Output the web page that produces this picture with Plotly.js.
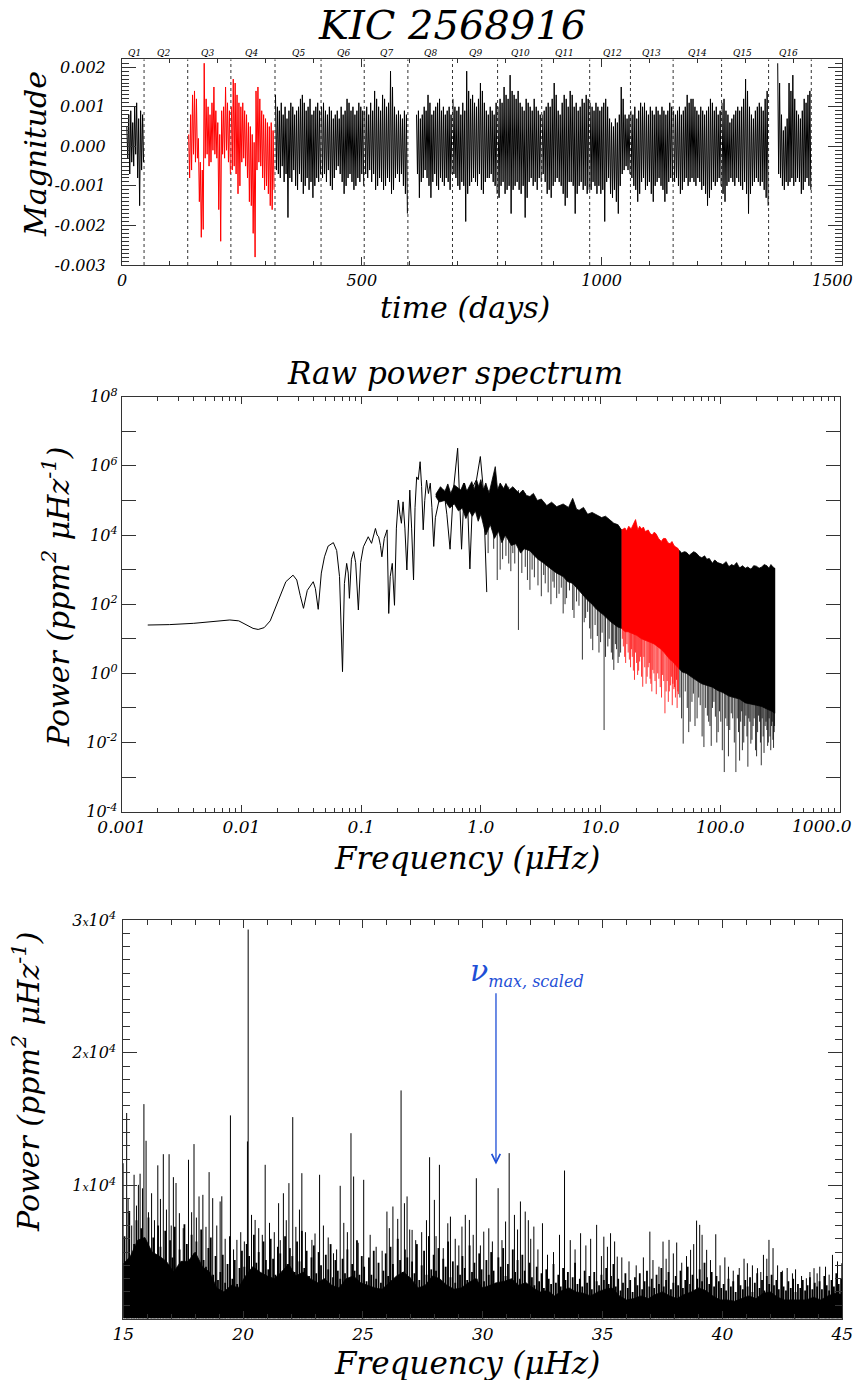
<!DOCTYPE html>
<html><head><meta charset="utf-8">
<script src="https://cdn.plot.ly/plotly-3.0.1.min.js"></script>
<style>html,body{margin:0;padding:0;background:#fff}</style>
</head><body><div id="chart" style="width:858px;height:1380px"></div>
<script>
// ================= PANEL 1 : light curve (values in units of 1e-4 mag, alternating local max / min) =================
const MAG_UNIT = 1e-4;
const quarterNames = ['Q1','Q2','Q3','Q4','Q5','Q6','Q7','Q8','Q9','Q10','Q11','Q12','Q13','Q14','Q15','Q16'];
const quarterLabelT = [27,87.5,178,271,367,461,551,643,737,830,923,1022,1104,1199,1294,1389];
const quarterEdges = [46,137,227,319,415,505,596,689,783,875,975,1060,1149,1250,1348,1437];

const q1 = [5,-3,8,-7,9,-4,6,-5,10,-2,11,-8,7,-15,9,-6,8,-4];
const q3 = [3,-8,8,-6,13,-2,14,-4,12,-3,2,-14,-4,-23,-6,-21,21,-3,12,-2,10,-5,8,-4,11,-1,15,-2,9,-3,6,-16,3,-24,9,-2,10,-3,15,-1,11,-4,9,-7];
const q4 = [10,-6,17,-5,16,-7,13,-12,11,-10,10,-4,11,-3,9,-5,8,-8,6,-14,5,-15,3,-22,1,-28,14,-6,15,-4,12,-5,9,-8,8,-11,7,-10,6,-12,5,-15,6,-16,4,-11];
const q5 = [13,-6,10,-7,9,-8,11,-5,8,-9,10,-7,7,-18,9,-8,11,-9,10,-6,8,-10,9,-11,10,-7,12,-9,13,-12,11,-10,9,-8,10,-11,12,-9,8,-13,9,-10,10,-8,11,-9,9,-7];
const q6 = [10,-8,11,-7,9,-9,8,-6,10,-10,9,-11,7,-8,8,-6,9,-5,7,-7,10,-9,8,-12,9,-10,12,-8,11,-7,9,-9,10,-11,8,-10,9,-8,11,-9,10,-7,9,-10];
const q7 = [9,-7,10,-8,8,-6,11,-9,9,-7,14,-11,12,-10,10,-8,9,-9,13,-11,12,-10,10,-8,11,-9,19,-12,15,-11,10,-8,8,-7,9,-9,8,-7,7,-10,9,-12,8,-17];
const q8 = [8,-7,9,-13,7,-9,8,-8,10,-6,9,-8,13,-10,11,-13,8,-9,9,-7,10,-10,11,-11,12,-8,9,-9,10,-10,8,-8,9,-9,10,-11,8,-7];
const q9 = [12,-7,10,-8,9,-10,10,-11,8,-9,11,-10,9,-19,19,-12,14,-10,12,-9,13,-8,11,-9,10,-10,12,-7,16,-11,14,-12,11,-9,9,-8,8,-8,10,-7,9,-9,8,-10,11,-12];
const q10 = [10,-13,12,-10,11,-9,15,-12,13,-11,12,-10,18,-17,14,-11,13,-10,12,-9,14,-11,11,-12,10,-10,9,-18,12,-13,11,-9,10,-8,9,-10,12,-9,10,-11,9,-8,8,-9];
const q11 = [8,-7,9,-9,10,-12,11,-11,10,-13,12,-10,16,-9,13,-8,9,-9,8,-10,11,-12,13,-15,12,-13,10,-9,14,-9,13,-10,10,-17,11,-12,9,-10,10,-9,12,-11,11,-10,13,-12,12,-11];
const q12 = [11,-11,10,-9,9,-10,11,-12,10,-10,9,-12,10,-11,11,-19,12,-9,10,-8,7,-12,6,-13,5,-11,7,-14,6,-17,8,-10,15,-7,12,-6,8,-5,7,-6,8,-7];
const q13 = [9,-8,8,-10,10,-11,7,-14,9,-12,11,-9,10,-8,11,-11,9,-10,8,-9,10,-12,9,-14,8,-10,10,-9,9,-8,8,-10,10,-11,9,-14,8,-12,9,-9,11,-8,10,-9];
const q14 = [9,-9,8,-8,9,-10,10,-12,8,-11,9,-9,10,-8,13,-10,11,-9,12,-8,12,-9,10,-10,9,-8,8,-9,10,-11,9,-10,8,-12,9,-15,10,-13,12,-11,11,-9,9,-10,10,-9,8,-8,9,-10];
const q15 = [11,-12,12,-14,9,-10,8,-9,6,-8,7,-9,8,-10,9,-8,10,-9,9,-10,10,-11,12,-9,17,-12,14,-17,10,-12,8,-10,7,-9,9,-8,10,-9,11,-10,10,-9,9,-11,12,-13,14,-15];
const q16 = [21,-7,16,-8,8,-10,4,-11,5,-9,7,-10,16,-9,14,-8,18,-10,12,-9,9,-8,8,-9,7,-12,9,-11,12,-9,11,-8,13,-10,14,-11];

const lcSegments = ['Q1','Q3','Q4','Q5','Q6','Q7','Q8','Q9','Q10','Q11','Q12','Q13','Q14','Q15','Q16'];
const lcStart = [10,139,228,320,416,506,614,690,784,876,976,1061,1150,1251,1367];
const lcEnd   = [45,226,317,414,504,595,688,782,874,974,1059,1148,1249,1347,1436];
const lcValues = [q1,q3,q4,q5,q6,q7,q8,q9,q10,q11,q12,q13,q14,q15,q16];
const redSegments = ['Q3','Q4'];

// ================= PANEL 2 : raw power spectrum (ppm^2/µHz) =================
const lowFreq = [0.00165,0.0025,0.004,0.006,0.008,0.0095,0.011,0.0125,0.0138,0.0155,0.0174,0.019,0.021,0.0235,0.027,0.029,0.031,0.033,0.0355,0.0398,0.0415,0.0438,0.0465,0.0494,0.053,0.0586,0.0625,0.066,0.0699,0.0725,0.0757,0.078,0.0798,0.083,0.0866,0.09,0.0948,0.099,0.1045,0.11,0.1146,0.1222,0.1317,0.136,0.14,0.145,0.149,0.156,0.1647,0.17,0.175,0.182,0.19,0.197,0.2045,0.211,0.217,0.224,0.232,0.241,0.248,0.255,0.264,0.274,0.282,0.291,0.3,0.311,0.32,0.33,0.34,0.352,0.365,0.378,0.39,0.404,0.417,0.43,0.46,0.49,0.52,0.553,0.59,0.64,0.66,0.69,0.73,0.77,0.81,0.86,0.92,0.99,1.05,1.12];
const lowPow = [25,25.7,28,32,35,33,26,20,18.6,21,33,71,178,447,692,501,178,76,251,447,282,71,794,2344,4786,6026,3548,631,1.12,398,1514,794,148,1995,3311,1585,68,1585,4571,6310,8913,5754,15490,10000,8913,5012,2344,7943,14125,54,631,1514,93,15850,102300,39810,21880,91200,15850,977,25120,199500,15850,501,63100,478600,398100,1318000,251200,14130,100000,389000,158500,316200,63100,4677,31620,53700,158500,204200,39810,3890,199500,3236000,251200,3890,316200,158500,1047,251200,398100,1862000,199500,224];

// dense band, black (0.42-15 µHz): upper and lower edges
const upA_f = [0.42,0.46,0.5,0.53,0.56,0.6,0.68,0.72,0.76,0.8,0.84,0.88,0.92,0.96,1.0,1.05,1.1,1.17,1.25,1.32,1.38,1.45,1.55,1.62,1.72,1.85,1.96,2.1,2.25,2.4,2.57,2.75,2.96,3.2,3.55,3.9,4.3,4.87,5.4,5.85,6.3,6.62,7.2,7.8,8.5,9.25,10.2,11.0,11.95,12.9,13.9,15.0];
const upA_p = [1.5e5,2.5e5,1.8e5,3.0e5,1.6e5,2.8e5,2.0e5,3.2e5,1.8e5,2.5e5,3.5e5,2.0e5,4.0e5,2.5e5,4.0e5,2.0e5,3.2e5,1.6e5,4.0e5,9.5e5,2.0e5,3.2e5,2.2e5,3.1e5,2.0e5,2.5e5,2.0e5,1.6e5,2.0e5,1.4e5,1.3e5,1.6e5,1.0e5,1.1e5,7.1e4,8.9e4,6.6e4,7.9e4,6.3e4,1.15e5,5.6e4,5.2e4,6.3e4,4.0e4,4.5e4,3.8e4,3.2e4,3.5e4,2.7e4,2.2e4,2.0e4,1.4e4];
const loA_f = [0.42,0.45,0.5,0.55,0.6,0.65,0.7,0.75,0.8,0.85,0.9,0.95,1.0,1.1,1.2,1.3,1.4,1.5,1.6,1.8,1.96,2.15,2.3,2.57,2.8,3.0,3.3,3.55,3.9,4.3,4.87,5.3,5.85,6.62,7.2,7.8,8.5,9.25,10.5,12,13.9,15.0];
const loA_p = [1.3e5,9e4,1.0e5,6e4,8e4,5e4,6e4,3e4,5e4,3.5e4,5e4,2.5e4,4.0e4,1.0e4,2.0e4,8e3,1.3e4,6e3,1.0e4,5.0e3,5.6e3,3e3,4.0e3,3.5e3,2.5e3,2.0e3,1.6e3,1.3e3,1.0e3,790,630,450,400,250,180,130,100,71,50,32,22,20];
// dense band, red (15-45 µHz)
const upR_f = [15.0,16.0,16.5,17.2,18.0,18.8,19.6,20.5,21.2,22.0,22.8,23.6,25.0,26.0,27.0,28.0,29.0,30.5,32.1,33.5,35.0,36.5,38.0,39.5,41.0,42.5,44.0,45.0];
const upR_p = [1.4e4,1.6e4,1.3e4,1.8e4,1.5e4,2.0e4,2.8e4,1.4e4,1.8e4,1.5e4,1.7e4,1.26e4,1.4e4,1.1e4,1.0e4,1.2e4,1.1e4,8.0e3,6.5e3,8.0e3,7.9e3,6.0e3,5.6e3,6.5e3,5.0e3,4.5e3,4.2e3,3.7e3];
const loR_f = [15.0,16,17,18.5,20,22,24,26,28,30,32,34,36,38,40,42,45];
const loR_p = [20,16,16,14,12.6,10,8.9,7.9,7.1,6.0,5.0,4.0,3.2,2.5,2.2,1.8,1.4];
// dense band, black (45-285 µHz)
const upB_f = [45,47.5,50,52,55,57,60,63,67,70,74,77,81,86,90,95,100,105,112,118,124,130,137,145,153,162,170,180,190,200,211,222,233,245,255,265,275,285];
const upB_p = [3.7e3,3.0e3,3.3e3,3.2e3,2.6e3,2.8e3,3.3e3,3.0e3,2.4e3,2.2e3,2.5e3,2.0e3,2.1e3,1.5e3,1.9e3,1.6e3,1.5e3,1.4e3,1.7e3,1.2e3,1.4e3,1.3e3,1.6e3,1.1e3,1.3e3,1.1e3,1.2e3,1.0e3,1.3e3,1.26e3,1.1e3,1.2e3,1.4e3,1.3e3,1.1e3,1.4e3,1.2e3,1.1e3];
const loB_f = [45,48,52,57,63,70,77,86,95,105,118,130,145,162,180,200,222,250,270,285];
const loB_p = [1.4,1.1,1.0,0.8,0.63,0.5,0.45,0.4,0.32,0.28,0.22,0.2,0.18,0.14,0.13,0.12,0.11,0.09,0.08,0.07];
// individual deep spikes (black): frequency, top, bottom
const spkF  = [1.37,1.52,1.71,1.85,2.06,2.2,2.35,2.57,2.8,3.2,3.45,3.85,4.1,4.5,4.87,5.2,5.85,6.3,7.05,7.5,8.1,8.6,9.4,10.0,10.7,11.5,12.3,12.9,13.6,14.3,
               1.15,1.28,1.45,1.62,1.78,1.92,2.45,2.68,3.0,3.35,3.65,4.0,4.3,4.7,5.05,5.5,6.0,6.6,7.3,7.8,8.3,9.0,9.7,10.3,11.0,11.8,12.6,13.3,14.0,14.7,
               46,49,53,56,59.6,64,68,73,78,82,86,91,96,101,108,114,120,127,135,142,148,153,160,167,173,180,188,197,205,213,220,228,237,245,252,260,268,275,282,
               47.5,51,54.5,58,61.5,66,70.5,75.5,80,84,88.5,93.5,98.5,104,111,117,123.5,131,138.5,145,151,157,163.5,170,176.5,184,192,201,209,216.5,224,232,241,248.5,256,264,271.5,278.5,284];
const spkHi = [2e5,2e5,2.5e5,2e5,2e5,1.5e5,1.6e5,1.3e5,1.3e5,1e5,8e4,8e4,7e4,7e4,7e4,6e4,6e4,5e4,5e4,4e4,4e4,4e4,3.5e4,3e4,3e4,3e4,2.5e4,2e4,2e4,1.8e4,
               2e5,3e5,2.5e5,2.5e5,2e5,2e5,1.3e5,1.5e5,1e5,9e4,7e4,8e4,6e4,7e4,6e4,6e4,5e4,5e4,5e4,4e4,4e4,3.5e4,3.5e4,3e4,3e4,2.5e4,2.2e4,2e4,2e4,1.5e4,
               3.5e3,3.0e3,3.0e3,2.5e3,2.5e3,2.5e3,2.2e3,2.0e3,2.0e3,1.8e3,1.6e3,1.6e3,1.5e3,1.5e3,1.4e3,1.3e3,1.3e3,1.3e3,1.2e3,1.2e3,1.2e3,1.2e3,1.1e3,1.1e3,1.1e3,1.1e3,1.1e3,1.1e3,1.1e3,1.1e3,1.1e3,1.1e3,1.1e3,1.1e3,1.1e3,1.1e3,1.1e3,1.1e3,1.1e3,
               3e3,3e3,2.6e3,2.6e3,3e3,2.4e3,2.2e3,2.2e3,2e3,1.7e3,1.8e3,1.6e3,1.5e3,1.4e3,1.5e3,1.3e3,1.3e3,1.3e3,1.3e3,1.2e3,1.2e3,1.1e3,1.1e3,1.1e3,1.1e3,1.1e3,1.1e3,1.1e3,1.1e3,1.1e3,1.1e3,1.1e3,1.1e3,1.1e3,1.1e3,1.1e3,1.1e3,1.1e3,1.1e3];
const spkLo = [500,2000,1500,3000,18,800,1200,260,600,170,400,100,300,200,54,150,68,120,2.5,40,20,4.7,12,8,0.023,6,4,1.26,5,3,
               3000,4000,1000,2500,900,1500,500,1000,350,700,220,450,150,300,100,250,40,90,30,60,10,25,4,15,3,10,2.5,7,2,4,
               0.2,0.0093,0.1,0.04,0.26,0.05,0.12,0.0074,0.06,0.03,0.1,0.056,0.02,0.04,0.0014,0.03,0.023,0.05,0.0014,0.02,0.04,0.006,0.03,0.015,0.05,0.0093,0.03,0.006,0.02,0.04,0.0022,0.015,0.03,0.023,0.01,0.015,0.03,0.012,0.02,
               0.05,0.3,0.02,0.15,0.03,0.2,0.015,0.1,0.04,0.008,0.15,0.01,0.08,0.006,0.05,0.004,0.07,0.01,0.05,0.003,0.08,0.01,0.06,0.002,0.04,0.012,0.05,0.004,0.06,0.01,0.05,0.005,0.04,0.008,0.05,0.006,0.04,0.007,0.03];
// individual deep spikes (red)
const rspkF  = [15.5,16.2,17.0,17.8,18.4,19.2,20.0,20.8,21.6,22.5,23.4,24.5,25.5,26.3,27.3,28.5,30,31.5,33,34.5,36,37.5,39,40.2,41.5,43.1,44.2,
                15.2,15.9,16.6,17.4,18.1,18.8,19.6,20.4,21.2,22.0,23.0,24.0,25.0,25.9,26.8,27.9,29.2,30.7,32.3,33.7,35.3,36.8,38.3,39.7,41.0,42.2,43.6,44.7];
const rspkHi = [1.4e4,1.4e4,1.5e4,1.4e4,1.4e4,1.5e4,1.4e4,1.3e4,1.3e4,1.3e4,1.2e4,1.1e4,1.0e4,1.0e4,9e3,9e3,8e3,7e3,7e3,7e3,6e3,5e3,5e3,5e3,4.5e3,4e3,4e3,
                1.4e4,1.5e4,1.3e4,1.6e4,1.4e4,1.5e4,2e4,1.4e4,1.4e4,1.3e4,1.3e4,1.2e4,1.1e4,1.0e4,9e3,9e3,8e3,7e3,6e3,7e3,6e3,5e3,5e3,5e3,4.5e3,4e3,4e3,3.8e3];
const rspkLo = [6,2,4,1.5,3,0.65,2,1.2,3,0.41,1.5,0.8,2,0.5,1.26,0.6,1,0.4,0.9,0.07,0.6,0.3,0.8,0.5,0.4,0.65,0.3,
                10,3,7,2.5,5,1.2,4,0.9,2.2,0.8,3,0.5,1.5,0.7,0.3,1,0.25,0.7,0.2,0.6,0.3,0.15,0.45,0.12,0.35,0.2,0.1,0.25];

// ================= PANEL 3 : zoom 15-45 µHz (linear) =================
// prominent peaks
const peakF = [15.0,15.14,15.45,15.63,15.70,15.86,15.95,16.18,16.44,16.67,16.91,17.09,17.34,17.72,17.95,18.16,18.32,18.58,18.73,19.04,19.11,19.47,19.74,20.18,20.21,20.50,20.92,21.48,21.68,21.91,22.07,22.45,22.87,23.19,23.77,24.05,24.50,24.61,25.03,
  26.00,26.25,26.59,26.73,26.84,27.05,27.78,27.98,28.19,28.54,28.65,29.13,29.27,29.44,29.73,30.04,30.25,30.64,31.10,31.32,31.57,31.77,32.13,32.49,33.41,34.08,34.75,35.05,
  35.33,35.61,36.97,37.35,37.52,37.77,38.09,38.67,38.92,39.05,39.34,39.72,40.25,41.04,41.46,41.71,41.94,42.11,42.92,43.50,43.82,44.06,44.59,44.98,
  15.2,15.35,15.55,15.8,16.05,16.3,16.55,16.8,17.0,17.2,17.5,17.85,18.05,18.45,18.9,19.25,19.6,19.9,20.05,20.35,20.65,20.8,21.1,21.3,21.55,21.8,22.2,22.35,22.6,23.0,23.35,23.55,23.9,24.2,24.35,24.8,
  25.3,25.55,25.8,26.1,26.45,26.95,27.2,27.45,27.65,28.05,28.35,28.85,29.0,29.6,29.9,30.4,30.8,30.95,31.45,31.9,32.0,32.3,32.7,32.95,33.2,33.65,33.85,34.3,34.5,34.95,
  35.2,35.5,35.8,36.1,36.4,36.7,37.1,37.65,37.95,38.3,38.5,38.8,39.15,39.5,39.9,40.1,40.45,40.7,40.9,41.25,41.6,41.85,42.3,42.5,42.7,43.05,43.3,43.65,43.95,44.3,44.45,44.8];
const peakP = [11690,15470,10820,10060,10900,16140,13380,9430,11530,12370,12370,10640,7930,11950,13130,9190,9310,11020,9060,8810,9200,15290,5920,13330,29280,7420,11570,8680,9430,10190,15160,10940,5920,10820,4910,9990,13950,10690,10440,
  8050,8430,17170,8680,9190,6670,12140,8930,11570,7170,7670,6920,7800,7420,10560,6540,6790,9810,12450,7800,8810,8050,6920,7170,11140,6420,7050,6160,
  6420,4660,6540,3900,5790,5920,5720,5170,7370,7050,5170,6340,3900,4160,3790,4790,5920,5300,3400,3030,3790,3900,4790,4160,
  9000,7000,8500,9800,8000,7400,9000,8200,7000,10200,6800,8000,7600,6900,7000,6000,5200,6500,5800,7800,6800,6300,7200,6500,5900,7400,6900,8200,6500,6400,7000,6100,5200,7200,6500,5700,
  6300,5400,5100,6800,7500,6700,5900,6500,7400,6200,5300,6000,5500,6300,5500,5800,5900,7300,6700,7400,6000,5200,4800,5000,6300,5900,5200,5500,6000,4700,
  5400,5800,4600,4300,4000,4600,4400,4500,4900,4200,4700,5600,6300,4400,4000,4600,3600,3800,4500,4000,3500,4500,4000,3600,3800,3700,3200,3500,3400,3900,3300,4300];
// local maxima of the dense background, one per 0.1 µHz bin starting at 15.05 µHz
const denseF0 = 15.05, denseStep = 0.1;
const denseP = [
  6200,3400,8100,4500,5600,7400,3900,6800,5200,4100,
  7600,4800,6100,3600,7000,5400,4200,6600,3800,5900,
  4600,6900,3500,5200,4300,7100,5600,3800,6300,4900,
  5800,3600,6700,4400,3900,5300,6100,3300,4700,2900,
  3500,4800,2700,4100,6200,3000,4400,2600,3800,5100,
  3900,5600,4700,3600,6300,4200,5000,3400,5800,4400,
  3700,6000,4500,3300,5400,4900,3600,6200,4100,5300,
  4700,3500,5800,4300,6600,3800,5100,3200,4600,5500,
  3400,5000,4000,2900,4800,3700,5600,3100,4400,3600,
  3000,4500,3400,5200,2800,4100,3600,5900,3300,4700,
  3900,2800,4600,3300,5100,3000,4200,2700,3600,4900,
  3200,5400,4100,3000,6000,4400,3500,5200,4600,3100,
  4300,3400,5600,2900,4000,5100,3300,6200,3700,4800,
  3600,5300,2800,4500,3900,5800,3100,4300,2700,4000,
  3300,4700,3800,2900,5500,3500,4200,3000,4900,3700,
  2800,4400,3300,5000,3600,2700,4600,3900,5300,3200,
  4100,2900,5200,3500,4400,3000,4800,3600,2600,4200,
  3100,2500,3900,2800,3400,2300,3700,3000,2600,4100,
  2700,3300,2400,3800,2900,3500,2200,3100,4200,2600,
  3000,2400,3600,2700,3200,2200,3500,2800,2500,3300,
  2900,3800,2600,3200,4100,2400,3000,2100,2700,3400,
  2300,2900,2000,3100,2500,3400,2200,2800,3600,2400,
  3000,2300,3300,2600,3800,2400,2900,3500,2200,2700,
  3200,2500,3600,2300,2900,3900,2600,3300,2100,3000,
  3700,2800,4200,3100,2600,3500,2400,3200,2800,2300,
  2600,2100,3000,2400,2800,2000,3300,2500,2200,2900,
  2400,3100,2000,2700,3400,2300,2900,2100,3200,2600,
  3300,2500,2900,2200,3500,2400,2100,2800,2300,3000,
  2000,2600,2300,2900,2100,2500,3100,2200,2700,2400,
  2800,2200,3200,2500,2100,2900,2400,3400,2600,3000];
// solid core of the spectrum
const coreF = [15.0,15.3,15.6,15.9,16.2,16.5,16.8,17.1,17.4,17.7,18.0,18.3,18.6,18.9,19.2,19.5,19.8,20.1,20.4,20.7,21.0,21.3,21.6,21.9,22.2,22.5,22.8,23.1,23.4,23.7,24.0,24.3,24.6,24.9,25.2,25.5,25.8,26.1,26.4,26.7,27.0,27.3,27.6,27.9,28.2,28.5,28.8,29.1,29.4,29.7,30.0,30.3,30.6,30.9,31.2,31.5,31.8,32.1,32.4,32.7,33.0,33.3,33.6,33.9,34.2,34.5,34.8,35.1,35.4,35.7,36.0,36.3,36.6,36.9,37.2,37.5,37.8,38.1,38.4,38.7,39.0,39.3,39.6,39.9,40.2,40.5,40.8,41.1,41.4,41.7,42.0,42.3,42.6,42.9,43.2,43.5,43.8,44.1,44.4,44.7,45.0];
const coreP = [4100,4700,5900,6100,5000,4700,4300,3500,4300,4300,5000,3900,3500,2300,2000,2500,2300,3200,3900,3500,3200,3000,3500,4100,3200,3500,3000,2700,3000,2500,2300,3000,3200,2700,2500,2300,2200,2700,3200,3500,3000,2300,2500,3200,3000,2500,2200,2300,2700,3000,2300,2500,2700,2800,3000,2500,2700,2300,2000,2100,1700,2100,2300,2000,1900,1700,2000,2200,2300,1700,1400,1500,1700,1500,1800,2000,1700,1500,1800,2000,2300,2100,1700,1400,1400,1300,1500,1700,1500,1900,2000,1600,1400,1400,1400,1400,1600,1400,1700,1900,1800];
const nuMaxScaled = 30.55;

// ================= build traces =================
const FONT = 'DejaVu Serif';
const AX = '#333';
const BLUE = '#1f4fd6';
const P1Y = [-0.003, 0.0022];

function lcTrace(wantRed){
  const x=[], y=[];
  lcSegments.forEach((name,i)=>{
    if (redSegments.includes(name) !== wantRed) return;
    const v = lcValues[i], n = v.length;
    for (let k=0;k<n;k++){ x.push(lcStart[i] + k*(lcEnd[i]-lcStart[i])/(n-1)); y.push(v[k]*MAG_UNIT); }
    x.push(null); y.push(null);
  });
  return {x, y, type:'scatter', mode:'lines', xaxis:'x', yaxis:'y',
          line:{color: wantRed ? '#ff0000' : '#000', width:1.0}, hoverinfo:'skip'};
}
const qx=[], qy=[];
quarterEdges.forEach(e=>{ qx.push(e,e,null); qy.push(P1Y[0],P1Y[1],null); });

function band(uf,up,lf,lp,color){
  return {x: uf.concat(lf.slice().reverse()), y: up.concat(lp.slice().reverse()),
          type:'scatter', mode:'lines', fill:'toself', fillcolor:color,
          line:{color:color, width:0.8}, xaxis:'x2', yaxis:'y2', hoverinfo:'skip'};
}
function spikes(f,hi,lo,color,xa,ya,w){
  const x=[],y=[];
  f.forEach((v,i)=>{ x.push(v,v,null); y.push(hi[i],lo[i],null); });
  return {x,y,type:'scatter',mode:'lines',line:{color:color,width:w},xaxis:xa,yaxis:ya,hoverinfo:'skip'};
}
const denseF = denseP.map((_,i)=>denseF0 + i*denseStep);

const traces = [
  {x:qx, y:qy, type:'scatter', mode:'lines', line:{color:AX, width:1, dash:'dot'}, xaxis:'x', yaxis:'y', hoverinfo:'skip'},
  lcTrace(false), lcTrace(true),
  {x:lowFreq, y:lowPow, type:'scatter', mode:'lines', line:{color:'#000', width:1}, xaxis:'x2', yaxis:'y2', hoverinfo:'skip'},
  band(upA_f,upA_p,loA_f,loA_p,'#000'),
  band(upB_f,upB_p,loB_f,loB_p,'#000'),
  spikes(spkF,spkHi,spkLo,'#000','x2','y2',0.8),
  band(upR_f,upR_p,loR_f,loR_p,'#ff0000'),
  spikes(rspkF,rspkHi,rspkLo,'#ff0000','x2','y2',0.8),
  {x:coreF, y:coreP, type:'scatter', mode:'lines', fill:'tozeroy', fillcolor:'#000', line:{color:'#000', width:0.8}, xaxis:'x3', yaxis:'y3', hoverinfo:'skip'},
  spikes(denseF, denseP.map(()=>0), denseP, '#000', 'x3','y3', 1.8),
  spikes(peakF, peakF.map(()=>0), peakP, '#000', 'x3','y3', 1)
];

// ================= layout =================
const tickFont = {family:FONT, style:'italic', size:16, color:'#000'};
function ax(extra){
  return Object.assign({showline:true, linecolor:AX, linewidth:1, mirror:'ticks', ticks:'inside', tickcolor:AX, tickwidth:1,
    showgrid:false, zeroline:false, automargin:false, fixedrange:true, tickfont:tickFont}, extra);
}
const W=858, H=1380;
const px = v=>v/W, py = v=>1-v/H;

const logMinor=[]; for (let e=-3;e<3;e++) for (let d=2;d<=9;d++) logMinor.push(d*Math.pow(10,e));
const evenDec=[], evenText=[], oddDec=[];
for (let e=-4;e<=8;e++){ if (e%2===0){ evenDec.push(Math.pow(10,e)); evenText.push('10<sup>'+e+'</sup>'); } else oddDec.push(Math.pow(10,e)); }

function txt(text,x,y,size,extra){
  return Object.assign({text, x, y, xref:'paper', yref:'paper', showarrow:false, xanchor:'center', yanchor:'middle',
    font:{family:FONT, style:'italic', size, color:'#000'}}, extra||{});
}
const annotations = [
  txt('KIC 2568916', px(452), py(25), 40),
  txt('Magnitude', px(36), py(154), 30, {textangle:-90}),
  txt('time (days)', px(465), py(308), 30),
  txt('1500', px(832), py(281), 16),
  txt('Raw power spectrum', px(455), py(373), 31),
  txt('Power (ppm<sup>2</sup> μHz<sup>-1</sup>)', px(56), py(597), 30, {textangle:-90}),
  txt('1000.0', px(822), py(826), 17),
  txt('Frequency (μHz)', px(467), py(858), 31),
  txt('Power (ppm<sup>2</sup> μHz<sup>-1</sup>)', px(26), py(1082), 30, {textangle:-90}),
  txt('Frequency (μHz)', px(467), py(1363), 31),
  {text:'ν<sub><span style="font-size:16px">max, scaled</span></sub>', x:31.85, y:26100, xref:'x3', yref:'y3', showarrow:false,
    xanchor:'center', yanchor:'middle', font:{family:FONT, style:'italic', size:30, color:BLUE}},
  {text:'', x:nuMaxScaled, y:11600, ax:nuMaxScaled, ay:24600, xref:'x3', yref:'y3', axref:'x3', ayref:'y3',
    showarrow:true, arrowhead:5, arrowsize:1.3, arrowwidth:1.3, arrowcolor:BLUE}
];
quarterNames.forEach((q,i)=>annotations.push({text:q, x:quarterLabelT[i], y:py(52.7), xref:'x', yref:'paper', showarrow:false,
  xanchor:'center', yanchor:'middle', font:{family:FONT, style:'italic', size:9, color:'#000'}}));

const layout = {
  width:W, height:H, margin:{l:0,r:0,t:0,b:0}, paper_bgcolor:'#fff', plot_bgcolor:'#fff', showlegend:false,
  font:{family:FONT, style:'italic', color:'#000'},
  xaxis: ax({domain:[px(122),px(841.5)], anchor:'y', range:[0,1500], tickmode:'array', tickvals:[0,500,1000],
    ticktext:['0','500','1000'], ticklen:8, ticklabelstandoff:1,
    minor:{dtick:100, tick0:0, ticks:'inside', ticklen:4, tickcolor:AX}}),
  yaxis: ax({domain:[py(265),py(59.3)], anchor:'x', range:P1Y, tickmode:'array',
    tickvals:[-0.003,-0.002,-0.001,0,0.001,0.002], ticktext:['-0.003','-0.002','-0.001','0.000','0.001','0.002'],
    ticklen:14, ticklabelstandoff:12, minor:{dtick:0.0001, tick0:0, ticks:'inside', ticklen:7, tickcolor:AX}}),
  xaxis2: ax({domain:[px(121.7),px(840)], anchor:'y2', type:'log', range:[-3,3], tickmode:'array',
    tickvals:[0.001,0.01,0.1,1,10,100], ticktext:['0.001','0.01','0.1','1.0','10.0','100.0'],
    ticklen:7, ticklabelstandoff:0, tickfont:Object.assign({},tickFont,{size:17}),
    minor:{tickmode:'array', tickvals:logMinor.concat([1000]), ticks:'inside', ticklen:4, tickcolor:AX}}),
  yaxis2: ax({domain:[py(811.7),py(396.7)], anchor:'x2', type:'log', range:[-4,8], tickmode:'array',
    tickvals:evenDec, ticktext:evenText, ticklen:14, ticklabelstandoff:0,
    minor:{tickmode:'array', tickvals:oddDec, ticks:'inside', ticklen:14, tickcolor:AX}}),
  xaxis3: ax({domain:[px(123.3),px(842.3)], anchor:'y3', range:[15,45], tickmode:'linear', tick0:15, dtick:5,
    ticklen:8, ticklabelstandoff:0, tickfont:Object.assign({},tickFont,{size:17}),
    minor:{dtick:1, tick0:15, ticks:'inside', ticklen:5, tickcolor:AX}}),
  yaxis3: ax({domain:[py(1318.5),py(920)], anchor:'x3', range:[0,30000], tickmode:'array',
    tickvals:[10000,20000,30000],
    ticktext:['1<span style="font-size:11px">x</span>10<sup>4</sup>','2<span style="font-size:11px">x</span>10<sup>4</sup>','3<span style="font-size:11px">x</span>10<sup>4</sup>'],
    ticklen:14, ticklabelstandoff:3, minor:{dtick:1000, tick0:0, ticks:'inside', ticklen:7, tickcolor:AX}}),
  annotations
};
Plotly.newPlot('chart', traces, layout, {displayModeBar:false, staticPlot:true});
</script></body></html>
